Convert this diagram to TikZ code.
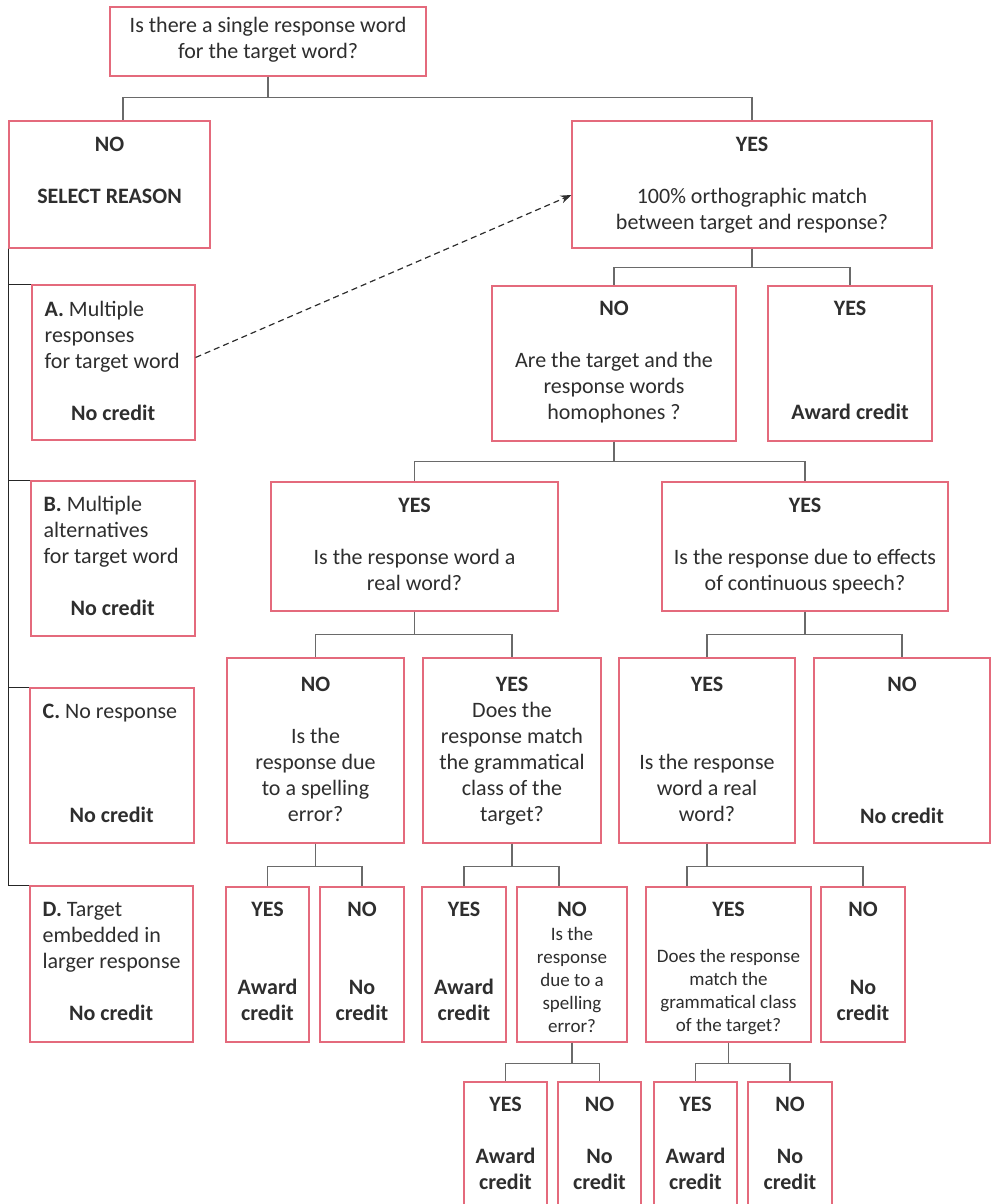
\documentclass[tikz,border=0pt]{standalone}
\usepackage{fontspec}
\setmainfont{Carlito}
\usetikzlibrary{arrows.meta, positioning}
\definecolor{boxred}{HTML}{E46A7C}
\definecolor{ink}{HTML}{2E2E2E}
\definecolor{linkgray}{HTML}{6A6A6A}
\newcommand\mainfs{\fontsize{22}{26}\selectfont}
\newcommand\smallfs{\fontsize{19}{23}\selectfont}

\begin{document}
\begin{tikzpicture}[x=1pt, y=-1pt,
  box/.style={draw=boxred, line width=1.1pt, fill=white, inner sep=0pt},
  % text nodes sit on the baseline of their last line
  txt/.style={anchor=base, align=center, inner sep=0pt, text=ink, font=\mainfs},
  lft/.style={txt, anchor=base west, align=left},
  sm/.style={txt, font=\smallfs},
  link/.style={draw=linkgray, line width=1.1pt},
  spine/.style={draw=black!85, line width=1.5pt},
  jump/.style={draw=ink, line width=1.2pt, dash pattern=on 6pt off 4pt,
               -{Stealth[length=11pt, width=8pt]}},
]
\useasboundingbox (0,0) rectangle (991,1204);
\clip (0,0) rectangle (991,1204);

%% row 1 -- question
\node[box, minimum width=316pt, minimum height=69pt] (q0) at (268,41.5) {};
\node[txt] (q0t) at ([yshift=-52pt]q0.north) {Is there a single response word\\for the target word?};

%% row 2
\node[box, minimum width=201pt, minimum height=127pt] (no0) at (109.5,184.5) {};
\node[txt] (no0t) at ([yshift=-83pt]no0.north) {\textbf{NO}\\[26pt]\textbf{SELECT REASON}};
\node[box, minimum width=360pt, minimum height=127pt] (yes0) at (752,184.5) {};
\node[txt] (yes0t) at ([yshift=-109pt]yes0.north)
  {\textbf{YES}\\[26pt]100\% orthographic match\\between target and response?};

%% reasons A-D
\node[box, minimum width=163pt, minimum height=155pt] (ra) at (113.5,362.5) {};
\node[lft] (rat) at ([xshift=13pt, yshift=-136pt]ra.north west)
  {\textbf{A.} Multiple\\responses\\for target word\\[26pt]\makebox[137pt]{\textbf{No credit}}};
\node[box, minimum width=164pt, minimum height=155pt] (rb) at (113,558.5) {};
\node[lft] (rbt) at ([xshift=13pt, yshift=-135pt]rb.north west)
  {\textbf{B.} Multiple\\alternatives\\for target word\\[26pt]\makebox[138pt]{\textbf{No credit}}};
\node[box, minimum width=164pt, minimum height=155pt] (rc) at (112,765.5) {};
\node[lft] (rct) at ([xshift=13pt, yshift=-135pt]rc.north west)
  {\textbf{C.} No response\\[78pt]\makebox[138pt]{\textbf{No credit}}};
\node[box, minimum width=163pt, minimum height=156pt] (rd) at (111.5,964) {};
\node[lft] (rdt) at ([xshift=13pt, yshift=-135pt]rd.north west)
  {\textbf{D.} Target\\embedded in\\larger response\\[26pt]\makebox[137pt]{\textbf{No credit}}};

%% row 2 right
\node[box, minimum width=244pt, minimum height=155pt] (hom) at (614,363.5) {};
\node[txt] (homt) at ([yshift=-134pt]hom.north)
  {\textbf{NO}\\[26pt]Are the target and the\\response words\\homophones ?};
\node[box, minimum width=164pt, minimum height=155pt] (aw1) at (850,363.5) {};
\node[txt] (aw1t) at ([yshift=-134pt]aw1.north) {\textbf{YES}\\[78pt]\textbf{Award credit}};

%% row 3
\node[box, minimum width=287pt, minimum height=129pt] (rw) at (414.5,546.5) {};
\node[txt] (rwt) at ([yshift=-109pt]rw.north)
  {\textbf{YES}\\[26pt]Is the response word a\\real word?};
\node[box, minimum width=286pt, minimum height=129pt] (cs) at (805,546.5) {};
\node[txt] (cst) at ([yshift=-109pt]cs.north)
  {\textbf{YES}\\[26pt]Is the response due to effects\\of continuous speech?};

%% row 4
\node[box, minimum width=177pt, minimum height=185pt] (sp) at (315.5,750.5) {};
\node[txt] (spt) at ([yshift=-164pt]sp.north)
  {\textbf{NO}\\[26pt]Is the\\response due\\to a spelling\\error?};
\node[box, minimum width=178pt, minimum height=185pt] (gr) at (512,750.5) {};
\node[txt] (grt) at ([yshift=-164pt]gr.north)
  {\textbf{YES}\\Does the\\response match\\the grammatical\\class of the\\target?};
\node[box, minimum width=176pt, minimum height=185pt] (rw2) at (707,750.5) {};
\node[txt] (rw2t) at ([yshift=-164pt]rw2.north)
  {\textbf{YES}\\[52pt]Is the response\\word a real\\word?};
\node[box, minimum width=176pt, minimum height=185pt] (nc2) at (902,750.5) {};
\node[txt] (nc2t) at ([yshift=-166pt]nc2.north) {\textbf{NO}\\[106pt]\textbf{No credit}};

%% row 5
\node[box, minimum width=83pt, minimum height=155pt] (aw3) at (267.5,964.5) {};
\node[txt] (aw3t) at ([yshift=-134pt]aw3.north) {\textbf{YES}\\[52pt]\textbf{Award}\\\textbf{credit}};
\node[box, minimum width=84pt, minimum height=155pt] (nc3) at (362,964.5) {};
\node[txt] (nc3t) at ([yshift=-134pt]nc3.north) {\textbf{NO}\\[52pt]\textbf{No}\\\textbf{credit}};
\node[box, minimum width=84pt, minimum height=155pt] (aw4) at (464,964.5) {};
\node[txt] (aw4t) at ([yshift=-134pt]aw4.north) {\textbf{YES}\\[52pt]\textbf{Award}\\\textbf{credit}};
\node[box, minimum width=110pt, minimum height=155pt] (sp2) at (572,964.5) {};
\node[sm] (sp2t) at ([yshift=-146pt]sp2.north)
  {{\mainfs\bfseries NO}\\[1pt]Is the\\response\\due to a\\spelling\\error?};
\node[box, minimum width=165pt, minimum height=155pt] (gr2) at (728.5,964.5) {};
\node[sm] (gr2t) at ([yshift=-145pt]gr2.north)
  {{\mainfs\bfseries YES}\\[23pt]Does the response\\match the\\grammatical class\\of the target?};
\node[box, minimum width=84pt, minimum height=155pt] (nc4) at (863,964.5) {};
\node[txt] (nc4t) at ([yshift=-134pt]nc4.north) {\textbf{NO}\\[52pt]\textbf{No}\\\textbf{credit}};

%% row 6
\node[box, minimum width=83pt, minimum height=130pt] (aw5) at (505.5,1147) {};
\node[txt] (aw5t) at ([yshift=-108pt]aw5.north) {\textbf{YES}\\[26pt]\textbf{Award}\\\textbf{credit}};
\node[box, minimum width=83pt, minimum height=130pt] (nc5) at (599.5,1147) {};
\node[txt] (nc5t) at ([yshift=-108pt]nc5.north) {\textbf{NO}\\[26pt]\textbf{No}\\\textbf{credit}};
\node[box, minimum width=83pt, minimum height=130pt] (aw6) at (695.5,1147) {};
\node[txt] (aw6t) at ([yshift=-108pt]aw6.north) {\textbf{YES}\\[26pt]\textbf{Award}\\\textbf{credit}};
\node[box, minimum width=84pt, minimum height=130pt] (nc6) at (790,1147) {};
\node[txt] (nc6t) at ([yshift=-108pt]nc6.north) {\textbf{NO}\\[26pt]\textbf{No}\\\textbf{credit}};

%% tree links
\draw[link] (q0.south) -- ++(0,-21pt) -| ([xshift=13.5pt]no0.north);
\draw[link] (q0.south) -- ++(0,-21pt) -| (yes0.north);
\draw[link] (yes0.south) -- ++(0,-19pt) -| (hom.north);
\draw[link] (yes0.south) -- ++(0,-19pt) -| (aw1.north);
\draw[link] (hom.south) -- ++(0,-20pt) -| (rw.north);
\draw[link] (hom.south) -- ++(0,-20pt) -| (cs.north);
\draw[link] (rw.south) -- ++(0,-23pt) -| (sp.north);
\draw[link] (rw.south) -- ++(0,-23pt) -| (gr.north);
\draw[link] (cs.south) -- ++(0,-23pt) -| (rw2.north);
\draw[link] (cs.south) -- ++(0,-23pt) -| (nc2.north);
\draw[link] (sp.south) -- ++(0,-23pt) -| (aw3.north);
\draw[link] (sp.south) -- ++(0,-23pt) -| (nc3.north);
\draw[link] (gr.south) -- ++(0,-23pt) -| (aw4.north);
\draw[link] (gr.south) -- ++(0,-23pt) -| ([xshift=-13pt]sp2.north);
\draw[link] (rw2.south) -- ++(0,-23pt) -| ([xshift=-41.5pt]gr2.north);
\draw[link] (rw2.south) -- ++(0,-23pt) -| (nc4.north);
\draw[link] (sp2.south) -- ++(0,-21pt) -| (aw5.north);
\draw[link] (sp2.south) -- ++(0,-21pt) -| (nc5.north);
\draw[link] (gr2.south) -- ++(0,-21pt) -| (aw6.north);
\draw[link] (gr2.south) -- ++(0,-21pt) -| (nc6.north);

%% reasons spine
\draw[spine] (no0.south west) |- (ra.north west);
\draw[spine] (no0.south west) |- (rb.north west);
\draw[spine] (no0.south west) |- (rc.north west);
\draw[spine] (no0.south west) |- (rd.north west);

\draw[jump] ([yshift=5pt]ra.east) -- ([yshift=-10.5pt]yes0.west);
\end{tikzpicture}
\end{document}
